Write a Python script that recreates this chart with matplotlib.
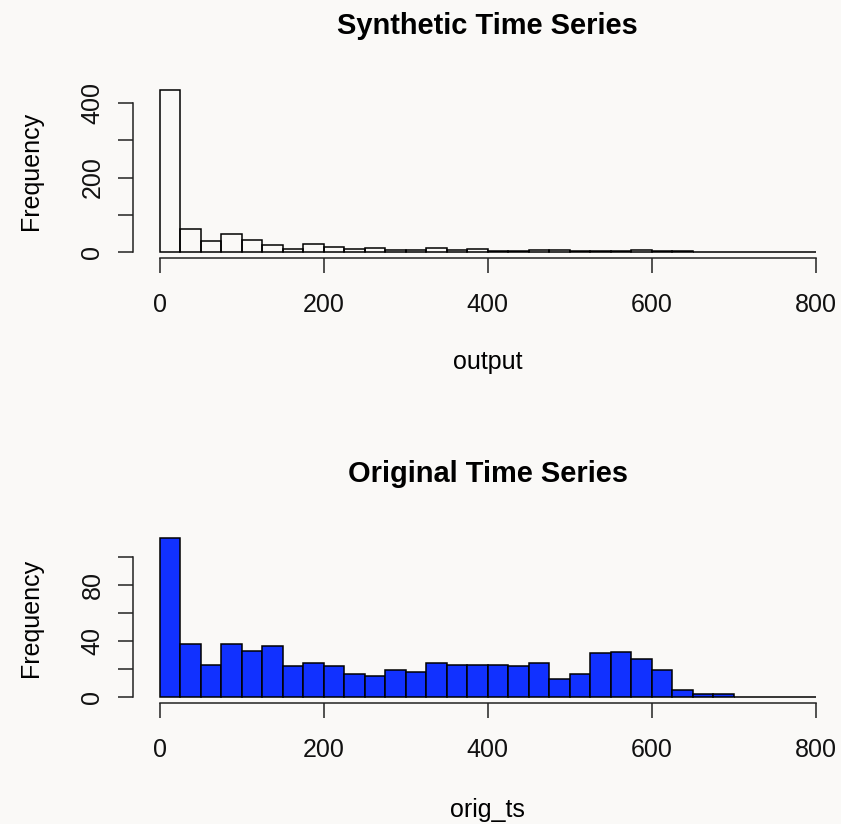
import matplotlib

matplotlib.use("Agg")
import matplotlib.pyplot as plt
import numpy as np

# histogram bin edges (R hist, breaks of 25)
bin_edges = np.arange(0, 825, 25)

# counts
synthetic_counts = [435, 62, 30, 47, 32, 19, 7, 21, 14, 7, 9, 4, 4, 9, 6, 8,
                    3, 2, 5, 5, 1, 1, 3, 5, 3, 3, 0, 0, 0, 0, 0, 0]
original_counts = [113, 38, 23, 38, 33, 36, 22, 24, 22, 16, 15, 19, 18, 24, 23, 23,
                   23, 22, 24, 13, 16, 31, 32, 27, 19, 5, 2, 2, 0, 0, 0, 0]

x_ticks = [0, 200, 400, 600, 800]
top_yticks = [0, 100, 200, 300, 400]
top_ylabels = ["0", "", "200", "", "400"]
bot_yticks = [0, 20, 40, 60, 80, 100]
bot_ylabels = ["0", "", "40", "", "80", ""]

BG = "#FAF9F7"
BLUE = "#1131FF"
W, H = 841, 824

plt.rcParams["font.family"] = ["Liberation Sans", "DejaVu Sans"]

fig = plt.figure(figsize=(W / 100, H / 100), dpi=100, facecolor=BG)


def _panel(rect_px, counts, face, title, xlabel, yticks, ylabels, xlab_y):
    left, top, right, bottom = rect_px
    ax = fig.add_axes([left / W, 1 - bottom / H, (right - left) / W, (bottom - top) / H])
    ax.set_facecolor("none")
    ax.bar(bin_edges[:-1], counts, width=25, align="edge", facecolor=face,
           edgecolor="black", linewidth=1.1)
    ax.set_xlim(-32, 832)
    m = max(counts)
    ax.set_ylim(-0.04 * m, 1.04 * m)
    ax.spines[["top", "right"]].set_visible(False)
    ax.spines["left"].set_bounds(yticks[0], yticks[-1])
    ax.spines["bottom"].set_bounds(0, 800)
    for s in ("left", "bottom"):
        ax.spines[s].set_linewidth(1.1)
        ax.spines[s].set_color("#222222")
    ax.set_xticks(x_ticks)
    ax.set_yticks(yticks)
    ax.set_yticklabels(ylabels)
    ax.tick_params(axis="both", length=10.8, width=1.1, color="#222222",
                   labelsize=18, labelcolor="#111111")
    ax.tick_params(axis="x", pad=14)
    ax.tick_params(axis="y", pad=10, labelrotation=90)
    for lab in ax.get_yticklabels():
        lab.set_va("center")
    ax.set_title(title, fontsize=20.9, fontweight="bold", pad=36)
    ax.set_xlabel(xlabel, fontsize=18)
    ax.xaxis.set_label_coords(0.5, xlab_y)
    ax.xaxis.label.set_va("center")
    ax.set_ylabel("Frequency", fontsize=18)
    ax.yaxis.set_label_coords(-0.1444, 0.5)
    ax.yaxis.label.set_va("center")
    return ax


_panel((133.3, 83.9, 841.9, 258.2), synthetic_counts, "none",
       "Synthetic Time Series", "output", top_yticks, top_ylabels, -0.5955)
_panel((133.3, 531.9, 841.9, 703.3), original_counts, BLUE,
       "Original Time Series", "orig_ts", bot_yticks, bot_ylabels, -0.6225)

fig.savefig("out.png", dpi=100, facecolor=BG)
plt.close(fig)
